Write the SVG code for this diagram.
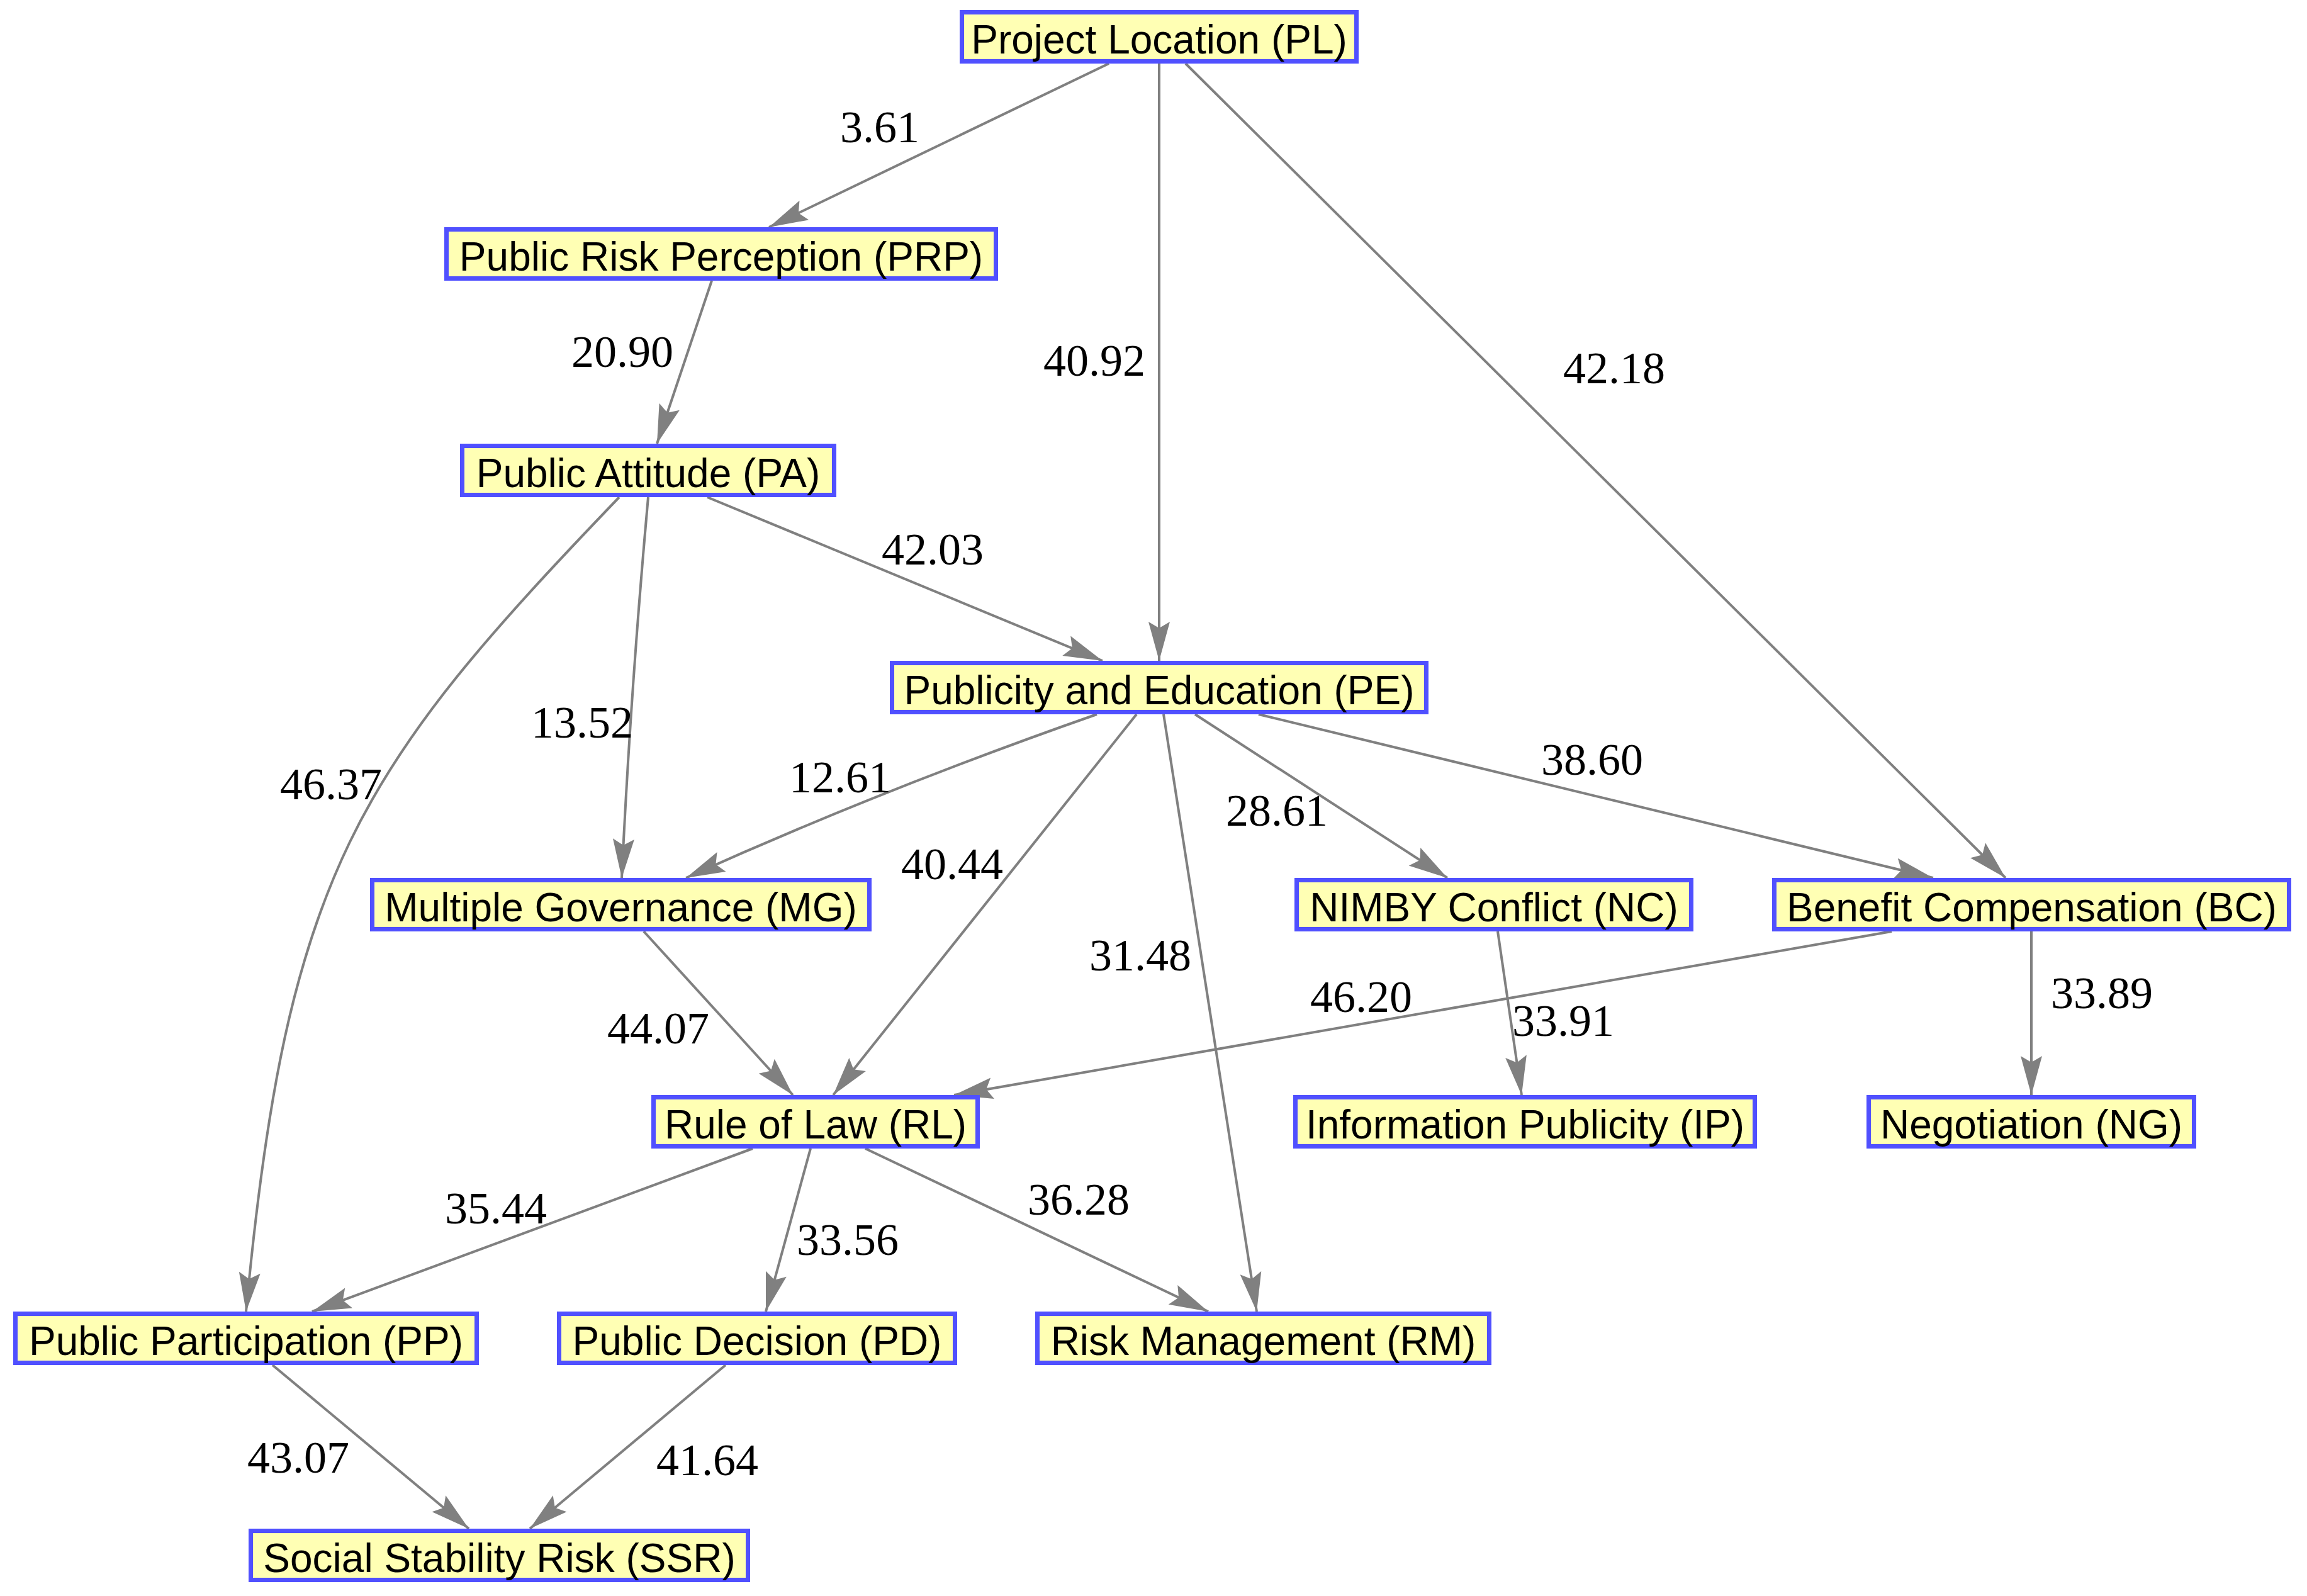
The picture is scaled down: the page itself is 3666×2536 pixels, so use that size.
<svg xmlns="http://www.w3.org/2000/svg" width="3666" height="2536" viewBox="0 0 3666 2536">
<style>
.node rect{fill:#ffffb4;stroke:#5050ff;stroke-width:7}
.node text{font-family:"Liberation Sans",Arial,sans-serif;font-size:64px;fill:#000;text-anchor:middle}
.edge{fill:none;stroke:#808080;stroke-width:4;marker-end:url(#arr)}
.lbl{font-family:"Liberation Serif","Times New Roman",serif;font-size:72px;fill:#000;text-anchor:middle}
</style>
<defs>
<marker id="arr" markerUnits="userSpaceOnUse" viewBox="-70 -20 75 40" markerWidth="75" markerHeight="40" refX="0" refY="0" orient="auto">
<path d="M0,0 L-62,-17 L-52,0 L-62,17 Z" fill="#808080"/>
</marker>
</defs>
<rect width="3666" height="2536" fill="#fff"/>
<g id="connectors">
<path class="edge" d="M1762,101 L1222,361"/>
<path class="edge" d="M1842,101 L1842,1050"/>
<path class="edge" d="M1884,101 L3187,1395"/>
<path class="edge" d="M1131,446 L1044,705"/>
<path class="edge" d="M1124,790 L1752,1050"/>
<path class="edge" d="M1030,790 Q1002,1100 988,1395"/>
<path class="edge" d="M984,790 C568,1223 456,1387 391,2084"/>
<path class="edge" d="M1743,1135 Q1400,1255 1090,1395"/>
<path class="edge" d="M1806,1135 L1324,1740"/>
<path class="edge" d="M1849,1135 L1997,2084"/>
<path class="edge" d="M1899,1135 L2300,1395"/>
<path class="edge" d="M2000,1135 L3072,1395"/>
<path class="edge" d="M1023,1480 L1260,1740"/>
<path class="edge" d="M3006,1480 L1516,1740"/>
<path class="edge" d="M2380,1480 L2418,1740"/>
<path class="edge" d="M3228,1480 L3228,1740"/>
<path class="edge" d="M1196,1825 L496,2084"/>
<path class="edge" d="M1288,1825 L1217,2084"/>
<path class="edge" d="M1375,1825 L1920,2084"/>
<path class="edge" d="M433,2169 L745,2429"/>
<path class="edge" d="M1153,2169 L842,2429"/>
<text class="lbl" x="1398" y="226">3.61</text>
<text class="lbl" x="1739" y="597">40.92</text>
<text class="lbl" x="2565" y="609">42.18</text>
<text class="lbl" x="989" y="583">20.90</text>
<text class="lbl" x="1482" y="897">42.03</text>
<text class="lbl" x="925" y="1172">13.52</text>
<text class="lbl" x="526" y="1270">46.37</text>
<text class="lbl" x="1335" y="1259">12.61</text>
<text class="lbl" x="1513" y="1397">40.44</text>
<text class="lbl" x="2029" y="1312">28.61</text>
<text class="lbl" x="1812" y="1542">31.48</text>
<text class="lbl" x="2530" y="1231">38.60</text>
<text class="lbl" x="1046" y="1658">44.07</text>
<text class="lbl" x="2163" y="1608">46.20</text>
<text class="lbl" x="2484" y="1646">33.91</text>
<text class="lbl" x="3340" y="1602">33.89</text>
<text class="lbl" x="788" y="1944">35.44</text>
<text class="lbl" x="1347" y="1994">33.56</text>
<text class="lbl" x="1714" y="1930">36.28</text>
<text class="lbl" x="474" y="2340">43.07</text>
<text class="lbl" x="1124" y="2344">41.64</text>
</g>
<g id="PL" class="node"><rect x="1528.5" y="19.5" width="627" height="78"/><text x="1842" y="84.5">Project Location (PL)</text></g>
<g id="PRP" class="node"><rect x="709.5" y="364.5" width="873" height="78"/><text x="1146" y="429.5">Public Risk Perception (PRP)</text></g>
<g id="PA" class="node"><rect x="734.5" y="708.5" width="591" height="78"/><text x="1030" y="773.5">Public Attitude (PA)</text></g>
<g id="PE" class="node"><rect x="1417.5" y="1053.5" width="849" height="78"/><text x="1842" y="1118.5">Publicity and Education (PE)</text></g>
<g id="MG" class="node"><rect x="591.5" y="1398.5" width="790" height="78"/><text x="986.5" y="1463.5">Multiple Governance (MG)</text></g>
<g id="NC" class="node"><rect x="2060.5" y="1398.5" width="627" height="78"/><text x="2374" y="1463.5">NIMBY Conflict (NC)</text></g>
<g id="BC" class="node"><rect x="2819.5" y="1398.5" width="818" height="78"/><text x="3228.5" y="1463.5">Benefit Compensation (BC)</text></g>
<g id="RL" class="node"><rect x="1038.5" y="1743.5" width="515" height="78"/><text x="1296" y="1808.5">Rule of Law (RL)</text></g>
<g id="IP" class="node"><rect x="2058.5" y="1743.5" width="730" height="78"/><text x="2423.5" y="1808.5">Information Publicity (IP)</text></g>
<g id="NG" class="node"><rect x="2969.5" y="1743.5" width="517" height="78"/><text x="3228" y="1808.5">Negotiation (NG)</text></g>
<g id="PP" class="node"><rect x="24.5" y="2087.5" width="733" height="78"/><text x="391" y="2152.5">Public Participation (PP)</text></g>
<g id="PD" class="node"><rect x="888.5" y="2087.5" width="629" height="78"/><text x="1203" y="2152.5">Public Decision (PD)</text></g>
<g id="RM" class="node"><rect x="1648.5" y="2087.5" width="718" height="78"/><text x="2007.5" y="2152.5">Risk Management (RM)</text></g>
<g id="SSR" class="node"><rect x="398.5" y="2432.5" width="790" height="78"/><text x="793.5" y="2497.5">Social Stability Risk (SSR)</text></g>
</svg>
